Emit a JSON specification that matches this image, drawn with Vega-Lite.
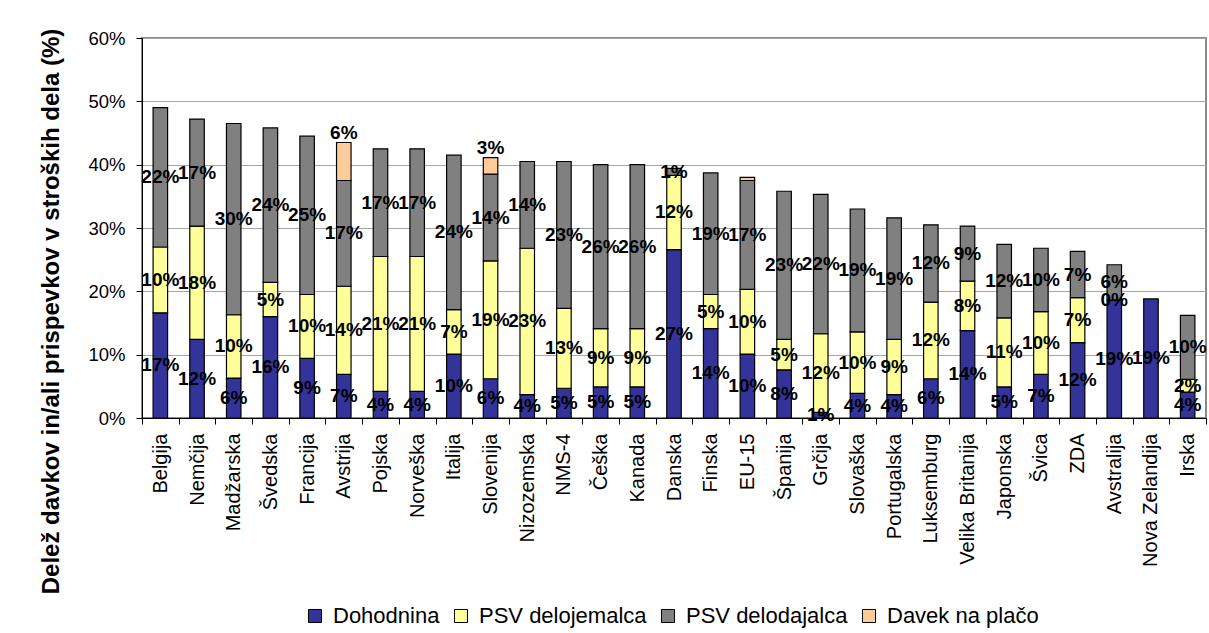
{
  "$schema": "https://vega.github.io/schema/vega-lite/v6.json",
  "width": 1064,
  "height": 380,
  "autosize": {"type": "none"},
  "padding": {"left": 142, "top": 38, "right": 3, "bottom": 215},
  "background": "white",
  "config": {
    "font": "Liberation Sans",
    "view": {"stroke": "#8a8a8a", "strokeWidth": 2}
  },
  "data": {
    "values": [
      {"country": "Belgija", "series": "Dohodnina", "value": 0.166},
      {"country": "Belgija", "series": "PSV delojemalca", "value": 0.104},
      {"country": "Belgija", "series": "PSV delodajalca", "value": 0.220},
      {"country": "Nemčija", "series": "Dohodnina", "value": 0.124},
      {"country": "Nemčija", "series": "PSV delojemalca", "value": 0.179},
      {"country": "Nemčija", "series": "PSV delodajalca", "value": 0.169},
      {"country": "Madžarska", "series": "Dohodnina", "value": 0.063},
      {"country": "Madžarska", "series": "PSV delojemalca", "value": 0.100},
      {"country": "Madžarska", "series": "PSV delodajalca", "value": 0.302},
      {"country": "Švedska", "series": "Dohodnina", "value": 0.160},
      {"country": "Švedska", "series": "PSV delojemalca", "value": 0.054},
      {"country": "Švedska", "series": "PSV delodajalca", "value": 0.244},
      {"country": "Francija", "series": "Dohodnina", "value": 0.094},
      {"country": "Francija", "series": "PSV delojemalca", "value": 0.101},
      {"country": "Francija", "series": "PSV delodajalca", "value": 0.250},
      {"country": "Avstrija", "series": "Dohodnina", "value": 0.069},
      {"country": "Avstrija", "series": "PSV delojemalca", "value": 0.139},
      {"country": "Avstrija", "series": "PSV delodajalca", "value": 0.167},
      {"country": "Avstrija", "series": "Davek na plačo", "value": 0.060},
      {"country": "Pojska", "series": "Dohodnina", "value": 0.042},
      {"country": "Pojska", "series": "PSV delojemalca", "value": 0.213},
      {"country": "Pojska", "series": "PSV delodajalca", "value": 0.170},
      {"country": "Norveška", "series": "Dohodnina", "value": 0.042},
      {"country": "Norveška", "series": "PSV delojemalca", "value": 0.213},
      {"country": "Norveška", "series": "PSV delodajalca", "value": 0.170},
      {"country": "Italija", "series": "Dohodnina", "value": 0.101},
      {"country": "Italija", "series": "PSV delojemalca", "value": 0.070},
      {"country": "Italija", "series": "PSV delodajalca", "value": 0.244},
      {"country": "Slovenija", "series": "Dohodnina", "value": 0.062},
      {"country": "Slovenija", "series": "PSV delojemalca", "value": 0.186},
      {"country": "Slovenija", "series": "PSV delodajalca", "value": 0.137},
      {"country": "Slovenija", "series": "Davek na plačo", "value": 0.026},
      {"country": "Nizozemska", "series": "Dohodnina", "value": 0.037},
      {"country": "Nizozemska", "series": "PSV delojemalca", "value": 0.231},
      {"country": "Nizozemska", "series": "PSV delodajalca", "value": 0.137},
      {"country": "NMS-4", "series": "Dohodnina", "value": 0.047},
      {"country": "NMS-4", "series": "PSV delojemalca", "value": 0.126},
      {"country": "NMS-4", "series": "PSV delodajalca", "value": 0.232},
      {"country": "Češka", "series": "Dohodnina", "value": 0.049},
      {"country": "Češka", "series": "PSV delojemalca", "value": 0.092},
      {"country": "Češka", "series": "PSV delodajalca", "value": 0.259},
      {"country": "Kanada", "series": "Dohodnina", "value": 0.049},
      {"country": "Kanada", "series": "PSV delojemalca", "value": 0.092},
      {"country": "Kanada", "series": "PSV delodajalca", "value": 0.259},
      {"country": "Danska", "series": "Dohodnina", "value": 0.266},
      {"country": "Danska", "series": "PSV delojemalca", "value": 0.117},
      {"country": "Danska", "series": "PSV delodajalca", "value": 0.011},
      {"country": "Finska", "series": "Dohodnina", "value": 0.141},
      {"country": "Finska", "series": "PSV delojemalca", "value": 0.054},
      {"country": "Finska", "series": "PSV delodajalca", "value": 0.192},
      {"country": "EU-15", "series": "Dohodnina", "value": 0.101},
      {"country": "EU-15", "series": "PSV delojemalca", "value": 0.102},
      {"country": "EU-15", "series": "PSV delodajalca", "value": 0.172},
      {"country": "EU-15", "series": "Davek na plačo", "value": 0.005},
      {"country": "Španija", "series": "Dohodnina", "value": 0.076},
      {"country": "Španija", "series": "PSV delojemalca", "value": 0.048},
      {"country": "Španija", "series": "PSV delodajalca", "value": 0.234},
      {"country": "Grčija", "series": "Dohodnina", "value": 0.009},
      {"country": "Grčija", "series": "PSV delojemalca", "value": 0.124},
      {"country": "Grčija", "series": "PSV delodajalca", "value": 0.220},
      {"country": "Slovaška", "series": "Dohodnina", "value": 0.039},
      {"country": "Slovaška", "series": "PSV delojemalca", "value": 0.097},
      {"country": "Slovaška", "series": "PSV delodajalca", "value": 0.194},
      {"country": "Portugalska", "series": "Dohodnina", "value": 0.037},
      {"country": "Portugalska", "series": "PSV delojemalca", "value": 0.087},
      {"country": "Portugalska", "series": "PSV delodajalca", "value": 0.192},
      {"country": "Luksemburg", "series": "Dohodnina", "value": 0.062},
      {"country": "Luksemburg", "series": "PSV delojemalca", "value": 0.121},
      {"country": "Luksemburg", "series": "PSV delodajalca", "value": 0.122},
      {"country": "Velika Britanija", "series": "Dohodnina", "value": 0.138},
      {"country": "Velika Britanija", "series": "PSV delojemalca", "value": 0.078},
      {"country": "Velika Britanija", "series": "PSV delodajalca", "value": 0.087},
      {"country": "Japonska", "series": "Dohodnina", "value": 0.049},
      {"country": "Japonska", "series": "PSV delojemalca", "value": 0.109},
      {"country": "Japonska", "series": "PSV delodajalca", "value": 0.116},
      {"country": "Švica", "series": "Dohodnina", "value": 0.069},
      {"country": "Švica", "series": "PSV delojemalca", "value": 0.099},
      {"country": "Švica", "series": "PSV delodajalca", "value": 0.100},
      {"country": "ZDA", "series": "Dohodnina", "value": 0.119},
      {"country": "ZDA", "series": "PSV delojemalca", "value": 0.071},
      {"country": "ZDA", "series": "PSV delodajalca", "value": 0.073},
      {"country": "Avstralija", "series": "Dohodnina", "value": 0.186},
      {"country": "Avstralija", "series": "PSV delojemalca", "value": 0.0},
      {"country": "Avstralija", "series": "PSV delodajalca", "value": 0.056},
      {"country": "Nova Zelandija", "series": "Dohodnina", "value": 0.188},
      {"country": "Irska", "series": "Dohodnina", "value": 0.041},
      {"country": "Irska", "series": "PSV delojemalca", "value": 0.020},
      {"country": "Irska", "series": "PSV delodajalca", "value": 0.101}
    ]
  },
  "transform": [
    {"stack": "value", "groupby": ["country"], "as": ["y0", "y1"]}
  ],
  "encoding": {
    "x": {
      "field": "country",
      "type": "nominal",
      "sort": null,
      "scale": {
        "domain": ["Belgija", "Nemčija", "Madžarska", "Švedska", "Francija", "Avstrija", "Pojska", "Norveška", "Italija", "Slovenija", "Nizozemska", "NMS-4", "Češka", "Kanada", "Danska", "Finska", "EU-15", "Španija", "Grčija", "Slovaška", "Portugalska", "Luksemburg", "Velika Britanija", "Japonska", "Švica", "ZDA", "Avstralija", "Nova Zelandija", "Irska"],
        "paddingInner": 0,
        "paddingOuter": 0
      },
      "axis": {
        "title": null,
        "labelAngle": -90,
        "labelFont": "Liberation Sans",
        "labelFontSize": 20,
        "labelColor": "black",
        "labelPadding": 9,
        "labelLimit": 300,
        "tickBand": "extent",
        "tickSize": 6,
        "tickColor": "black",
        "domainColor": "black",
        "grid": false
      }
    }
  },
  "layer": [
    {
      "mark": {"type": "bar", "width": 14.5, "stroke": "black", "strokeWidth": 1.2},
      "encoding": {
        "y": {
          "field": "y1",
          "type": "quantitative",
          "scale": {"domain": [0, 0.6], "nice": false},
          "axis": {
            "values": [0, 0.1, 0.2, 0.3, 0.4, 0.5, 0.6],
            "format": ".0%",
            "title": "Delež davkov in/ali prispevkov v stroških dela (%)",
            "titleFont": "Liberation Sans",
            "titleFontSize": 24,
            "titleFontWeight": "bold",
            "titleColor": "black",
            "titleX": -91,
            "titleY": 273,
            "titleAlign": "center",
            "titleBaseline": "middle",
            "titleAngle": -90,
            "titleLimit": 700,
            "labelFont": "Liberation Sans",
            "labelFontSize": 18.5,
            "labelColor": "black",
            "labelPadding": 11,
            "tickSize": 6,
            "tickColor": "black",
            "domainColor": "black",
            "grid": true,
            "gridColor": "#a6a6a6",
            "gridWidth": 1
          }
        },
        "y2": {"field": "y0"},
        "color": {
          "field": "series",
          "type": "nominal",
          "scale": {
            "domain": ["Dohodnina", "PSV delojemalca", "PSV delodajalca", "Davek na plačo"],
            "range": ["#333399", "#ffff99", "#808080", "#ffcc99"]
          },
          "legend": {
            "title": null,
            "orient": "none",
            "legendX": 162,
            "legendY": 567,
            "direction": "horizontal",
            "padding": 0,
            "symbolType": "square",
            "symbolSize": 170,
            "symbolStrokeColor": "black",
            "symbolStrokeWidth": 1,
            "symbolOpacity": 1,
            "labelFont": "Liberation Sans",
            "labelFontSize": 22,
            "labelColor": "black",
            "labelLimit": 400,
            "labelOffset": 7,
            "columnPadding": 10
          }
        }
      }
    },
    {
      "transform": [
        {"filter": "datum.series !== 'Davek na plačo'"},
        {"fold": ["y0", "y1"], "as": ["edge", "pos"]},
        {"aggregate": [{"op": "mean", "field": "pos", "as": "mid"}], "groupby": ["country", "series", "value"]}
      ],
      "mark": {"type": "text", "font": "Liberation Sans", "fontSize": 19, "fontWeight": "bold", "color": "black", "baseline": "middle", "align": "center"},
      "encoding": {
        "y": {"field": "mid", "type": "quantitative"},
        "text": {"field": "value", "type": "quantitative", "format": ".0%"}
      }
    },
    {
      "transform": [
        {"filter": "datum.series === 'Davek na plačo' && datum.value >= 0.01"}
      ],
      "mark": {"type": "text", "font": "Liberation Sans", "fontSize": 19, "fontWeight": "bold", "color": "black", "baseline": "middle", "align": "center", "dy": -9.5},
      "encoding": {
        "y": {"field": "y1", "type": "quantitative"},
        "text": {"field": "value", "type": "quantitative", "format": ".0%"}
      }
    }
  ]
}
